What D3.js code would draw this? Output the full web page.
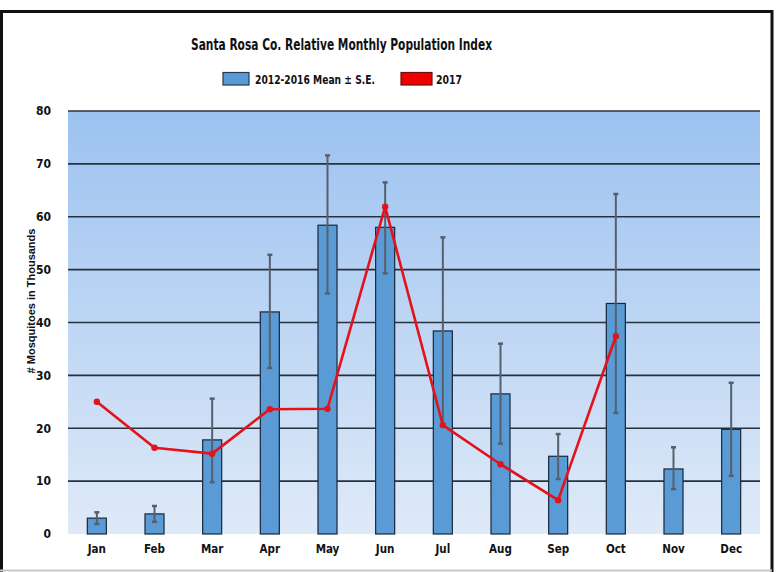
<!DOCTYPE html>
<html>
<head>
<meta charset="utf-8">
<script src="https://cdn.jsdelivr.net/npm/d3@7"></script>
<style>
  body { margin: 0; background: #fff; }
  svg { display: block; }
</style>
</head>
<body>
<svg id="chart" width="778" height="572"></svg>
<script>
// data
const months = ['Jan','Feb','Mar','Apr','May','Jun','Jul','Aug','Sep','Oct','Nov','Dec'];
const meanVals = [3.0, 3.8, 17.8, 42.0, 58.4, 58.0, 38.4, 26.5, 14.7, 43.6, 12.3, 19.8];
const errHigh  = [4.1, 5.3, 25.6, 52.8, 71.6, 66.5, 56.1, 36.0, 18.9, 64.3, 16.4, 28.6];
const errLow   = [1.9, 2.3, 9.8, 31.4, 45.5, 49.3, 20.8, 17.1, 10.4, 22.9, 8.5, 11.0];
const vals2017 = [25.0, 16.3, 15.2, 23.6, 23.7, 61.9, 20.6, 13.2, 6.4, 37.4, null, null];
const yTicks = [0, 10, 20, 30, 40, 50, 60, 70, 80];

const svg = d3.select('#chart');
const plotL = 68, plotR = 760, plotT = 111, plotB = 534;
const narrow = 'DejaVu Sans Condensed, Liberation Sans Narrow, sans-serif';

const x = d3.scaleBand().domain(months).range([plotL, plotR])
  .paddingInner(0.67).paddingOuter(0.335);
const y = d3.scaleLinear().domain([0, 80]).range([plotB, plotT]);
const cx = m => x(m) + x.bandwidth() / 2;

// frame
svg.append('path')
  .attr('d', 'M1.5,572 L1.5,11.5 L772,11.5 L772,572')
  .attr('fill', 'none').attr('stroke', '#111').attr('stroke-width', 3);
svg.append('line').attr('x1', 0).attr('x2', 772).attr('y1', 570.5).attr('y2', 570.5)
  .attr('stroke', '#c8c8c8').attr('stroke-width', 2);

// plot background gradient
let defs = svg.append('defs');
let grad = defs.append('linearGradient').attr('id', 'bg')
  .attr('x1', 0).attr('y1', 0).attr('x2', 0).attr('y2', 1);
grad.append('stop').attr('offset', '0%').attr('stop-color', '#9cc2f0');
grad.append('stop').attr('offset', '100%').attr('stop-color', '#dfeaf8');
svg.append('rect').attr('x', plotL).attr('y', plotT)
  .attr('width', plotR - plotL).attr('height', plotB - plotT)
  .attr('fill', 'url(#bg)');

// gridlines
svg.append('g').selectAll('line')
  .data(yTicks.filter(d => d > 0))
  .join('line')
  .attr('x1', plotL).attr('x2', plotR)
  .attr('y1', d => y(d)).attr('y2', d => y(d))
  .attr('stroke', '#27323f').attr('stroke-width', 1.6);

// y axis labels
const yAxis = d3.axisLeft(y).tickValues(yTicks).tickSize(0).tickPadding(17);
let ya = svg.append('g').attr('transform', `translate(${plotL},0)`).call(yAxis);
ya.select('.domain').remove();
ya.selectAll('text')
  .attr('font-family', narrow)
  .attr('font-weight', 'bold').attr('font-size', 12).attr('fill', '#111');

// x axis labels
const xAxis = d3.axisBottom(x).tickSize(0).tickPadding(11);
let xa = svg.append('g').attr('transform', `translate(0,${plotB})`).call(xAxis);
xa.select('.domain').remove();
xa.selectAll('text')
  .attr('font-family', narrow)
  .attr('font-weight', 'bold').attr('font-size', 11.5).attr('fill', '#111');

// bars
svg.append('g').selectAll('rect')
  .data(months)
  .join('rect')
  .attr('x', d => x(d))
  .attr('y', (d, i) => y(meanVals[i]))
  .attr('width', x.bandwidth())
  .attr('height', (d, i) => y(0) - y(meanVals[i]))
  .attr('fill', '#5b9bd5')
  .attr('stroke', '#17273a').attr('stroke-width', 1.2);

// error bars
let eb = svg.append('g').attr('stroke', '#56606c').attr('stroke-width', 2);
months.forEach((m, i) => {
  eb.append('line').attr('x1', cx(m)).attr('x2', cx(m))
    .attr('y1', y(errLow[i])).attr('y2', y(errHigh[i]));
  [errLow[i], errHigh[i]].forEach(v => {
    eb.append('line').attr('x1', cx(m) - 2.5).attr('x2', cx(m) + 2.5)
      .attr('y1', y(v)).attr('y2', y(v)).attr('stroke-width', 2.5);
  });
});

// 2017 line
const pts = months.map((m, i) => ({ m: m, v: vals2017[i] })).filter(d => d.v != null);
const line = d3.line().x(d => cx(d.m)).y(d => y(d.v));
svg.append('path').datum(pts)
  .attr('d', line)
  .attr('fill', 'none').attr('stroke', '#e3121b').attr('stroke-width', 2.6)
  .attr('stroke-linejoin', 'round');
svg.append('g').selectAll('circle')
  .data(pts)
  .join('circle')
  .attr('cx', d => cx(d.m)).attr('cy', d => y(d.v)).attr('r', 3.2)
  .attr('fill', '#e3121b');

// title
svg.append('text').attr('x', 191).attr('y', 50)
  .attr('font-family', narrow)
  .attr('font-weight', 'bold').attr('font-size', 15).attr('fill', '#111')
  .attr('textLength', 301).attr('lengthAdjust', 'spacingAndGlyphs')
  .text('Santa Rosa Co. Relative Monthly Population Index');

// legend
let lg = svg.append('g');
lg.append('rect').attr('x', 223).attr('y', 72.5).attr('width', 26).attr('height', 12.5)
  .attr('fill', '#5b9bd5').attr('stroke', '#26384d').attr('stroke-width', 1.2);
lg.append('text').attr('x', 255).attr('y', 83.5)
  .attr('font-family', narrow)
  .attr('font-weight', 'bold').attr('font-size', 13).attr('fill', '#111')
  .attr('textLength', 120).attr('lengthAdjust', 'spacingAndGlyphs')
  .text('2012-2016 Mean \u00b1 S.E.');
lg.append('rect').attr('x', 401).attr('y', 72.5).attr('width', 31).attr('height', 12.5)
  .attr('fill', '#ee0000').attr('stroke', '#6a1010').attr('stroke-width', 1.2);
lg.append('text').attr('x', 436).attr('y', 83.5)
  .attr('font-family', narrow)
  .attr('font-weight', 'bold').attr('font-size', 13).attr('fill', '#111')
  .attr('textLength', 26).attr('lengthAdjust', 'spacingAndGlyphs')
  .text('2017');

// y axis title
svg.append('text')
  .attr('transform', 'translate(35,301) rotate(-90)')
  .attr('text-anchor', 'middle')
  .attr('font-family', 'Liberation Sans, Arial, sans-serif')
  .attr('font-weight', 'bold').attr('font-size', 11).attr('fill', '#111')
  .text('# Mosquitoes in Thousands');
</script>
</body>
</html>
